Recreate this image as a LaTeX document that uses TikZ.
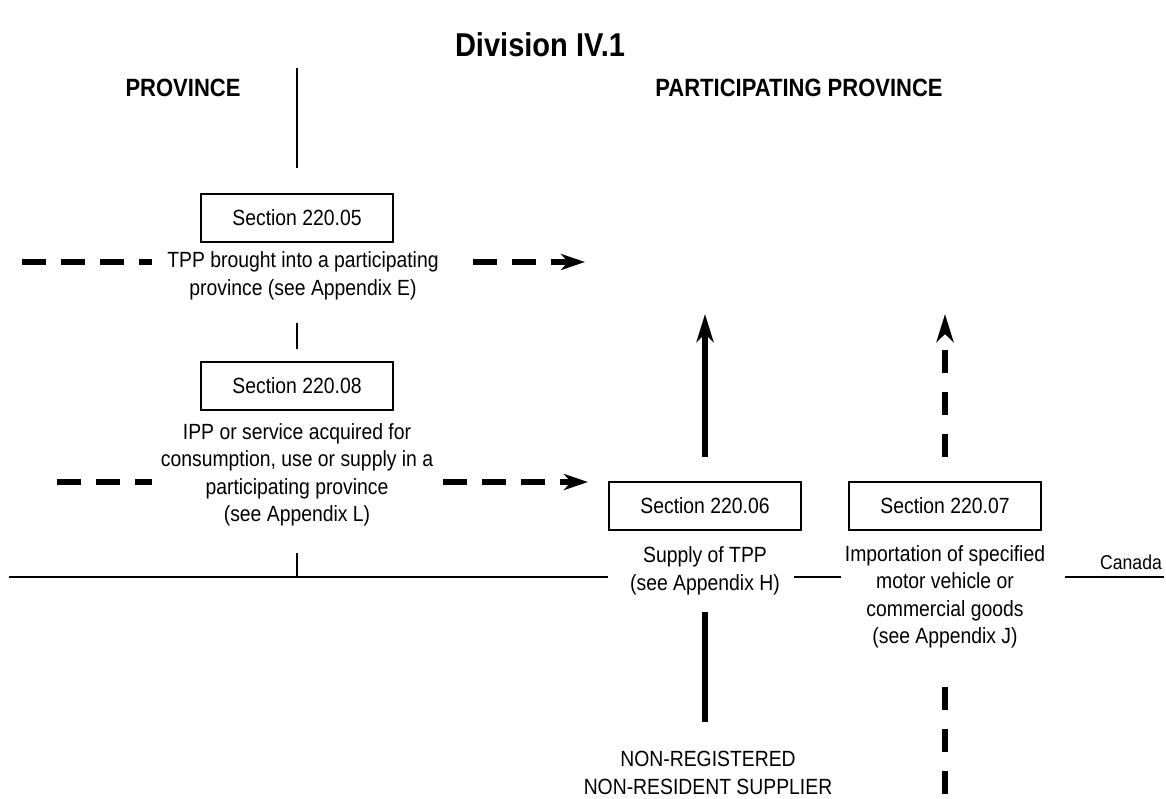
\documentclass[tikz,border=0pt]{standalone}
\usepackage{fontspec}
\setmainfont{Liberation Sans}[FakeStretch=0.88]
\usetikzlibrary{arrows.meta}

\begin{document}
\begin{tikzpicture}[x=1pt,y=-1pt,
  every node/.style={font=\fontsize{22}{27.5}\selectfont, inner sep=0pt},
  secbox/.style={draw, line width=2pt, minimum width=192pt, minimum height=48pt},
  caption/.style={align=center},
  header/.style={font=\fontsize{25}{30}\selectfont\bfseries},
  thinline/.style={line width=2pt},
  heavy/.style={line width=6pt},
  vdash/.style={line width=6pt, dash pattern=on 23pt off 19pt},
  hdash/.style={line width=5.5pt, dash pattern=on 24pt off 15pt},
  vtip/.style={-{Stealth[length=28pt,width=17pt,inset=8pt]}},
  htip/.style={-{Stealth[length=24pt,width=16pt,inset=7pt]}},
]
\useasboundingbox (0,0) rectangle (1166,799);

% headings
\node[font=\fontsize{33}{40}\selectfont\bfseries] (title) at (540,45) {Division IV.1};
\node[header] (hprov) at (183,88) {PROVINCE};
\node[header] (hpart) at (799,88) {PARTICIPATING PROVINCE};

% province column
\node[secbox] (b05) at (297,218) {Section 220.05};
\node[caption] (c05) at (303,276) {TPP brought into a participating\\province (see Appendix E)};
\node[secbox] (b08) at (297,386) {Section 220.08};
\node[caption] (c08) at (297,475) {IPP or service acquired for\\consumption, use or supply in a\\participating province\\(see Appendix L)};

% participating province column
\node[secbox] (b06) at (705,506) {Section 220.06};
\node[caption] (c06) at (705,571) {Supply of TPP\\(see Appendix H)};
\node[secbox] (b07) at (945,506) {Section 220.07};
\node[caption] (c07) at (945,597) {Importation of specified\\motor vehicle or\\commercial goods\\(see Appendix J)};
\node[caption] (nrs) at (708,773) {NON-REGISTERED\\NON-RESIDENT SUPPLIER};
\node[font=\fontsize{20}{24}\selectfont] (canada) at (1131,562) {Canada};

% boundary between the provinces
\coordinate (vtop) at (297,68);
\coordinate (vmid) at (297,323);
\draw[thinline] (vtop) -- ([yshift=25pt]b05.north);
\draw[thinline] (vmid) -- ([yshift=12pt]b08.north);

% boundary of Canada
\coordinate (cw) at (9,577);
\coordinate (ce) at (1164,577);
\coordinate (tick) at (297,553);
\draw[thinline] (cw) -- (cw -| 608,0);
\draw[thinline] (tick) -- (tick |- cw);
\draw[thinline] (794,577) -- (841,577);
\draw[thinline] (1065,577) -- (ce);

% TPP brought into a participating province
\coordinate (a1s) at (22,262);
\coordinate (a1e) at (585,262);
\draw[hdash] (a1s) -- (a1s -| 152,0);
\draw[hdash, htip] (a1e -| 473,0) -- (a1e);

% IPP or service acquired for use in a participating province
\coordinate (a2s) at (57,482);
\coordinate (a2e) at (588,482);
\draw[hdash] (a2s) -- (a2s -| 152,0);
\draw[hdash, htip] (a2e -| 443,0) -- (a2e);

% supplies going up into the participating province
\draw[heavy, vtip] ([yshift=24pt]b06.north) -- ++(0,-143);
\draw[vdash, vtip] ([yshift=24pt]b07.north) -- ++(0,-143);

% supplies coming in from outside Canada
\coordinate (nrtop) at (705,612);
\draw[heavy] (nrtop) -- ++(0,110);
\coordinate (imtop) at (945,687);
\draw[vdash] (imtop) -- ++(0,108);
\end{tikzpicture}
\end{document}
